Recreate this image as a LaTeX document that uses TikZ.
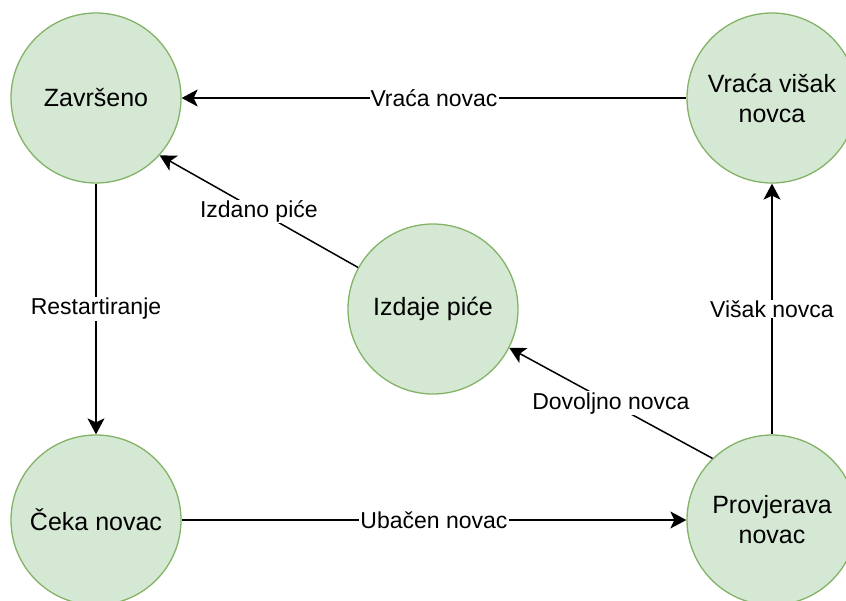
\documentclass[tikz,border=0pt]{standalone}
\usepackage{fontspec}
\setmainfont{Liberation Sans}
\usetikzlibrary{positioning, arrows.meta}

\definecolor{cStateFill}{HTML}{D5E8D4}
\definecolor{cStateLine}{HTML}{82B366}

\begin{document}
\begin{tikzpicture}[x=1pt, y=-1pt,
        state/.style={circle, draw=cStateLine, fill=cStateFill, line width=1.3pt,
            minimum size=170pt, inner sep=0pt, align=center,
            font=\fontsize{25}{30}\selectfont},
        trans/.style={line width=1.5pt, -{Stealth[length=16pt, width=17pt, inset=4pt]}},
        tlabel/.style={fill=white, inner sep=1pt, font=\fontsize{23}{26}\selectfont}]
        \useasboundingbox (0,0) rectangle (846,600);

        \node[state] (nZavrseno) at (96,98) {Završeno};
        \node[state] (nVracaVisak) at (772,98) {Vraća višak\\novca};
        \node[state] (nIzdaje) at (433,309) {Izdaje piće};
        \node[state] (nCeka) at (96,520) {Čeka novac};
        \node[state] (nProvjerava) at (772,520) {Provjerava\\novac};

        \draw[trans] (nVracaVisak) -- node[tlabel]{Vraća novac} (nZavrseno);
        \draw[trans] (nIzdaje.151) -- node[tlabel]{Izdano piće} (nZavrseno.-42);
        \draw[trans] (nZavrseno) -- node[tlabel]{Restartiranje} (nCeka);
        \draw[trans] (nCeka) -- node[tlabel]{Ubačen novac} (nProvjerava);
        \draw[trans] (nProvjerava.134) -- node[tlabel]{Dovoljno novca} (nIzdaje.-27);
        \draw[trans] (nProvjerava) -- node[tlabel]{Višak novca} (nVracaVisak);
\end{tikzpicture}
\end{document}
